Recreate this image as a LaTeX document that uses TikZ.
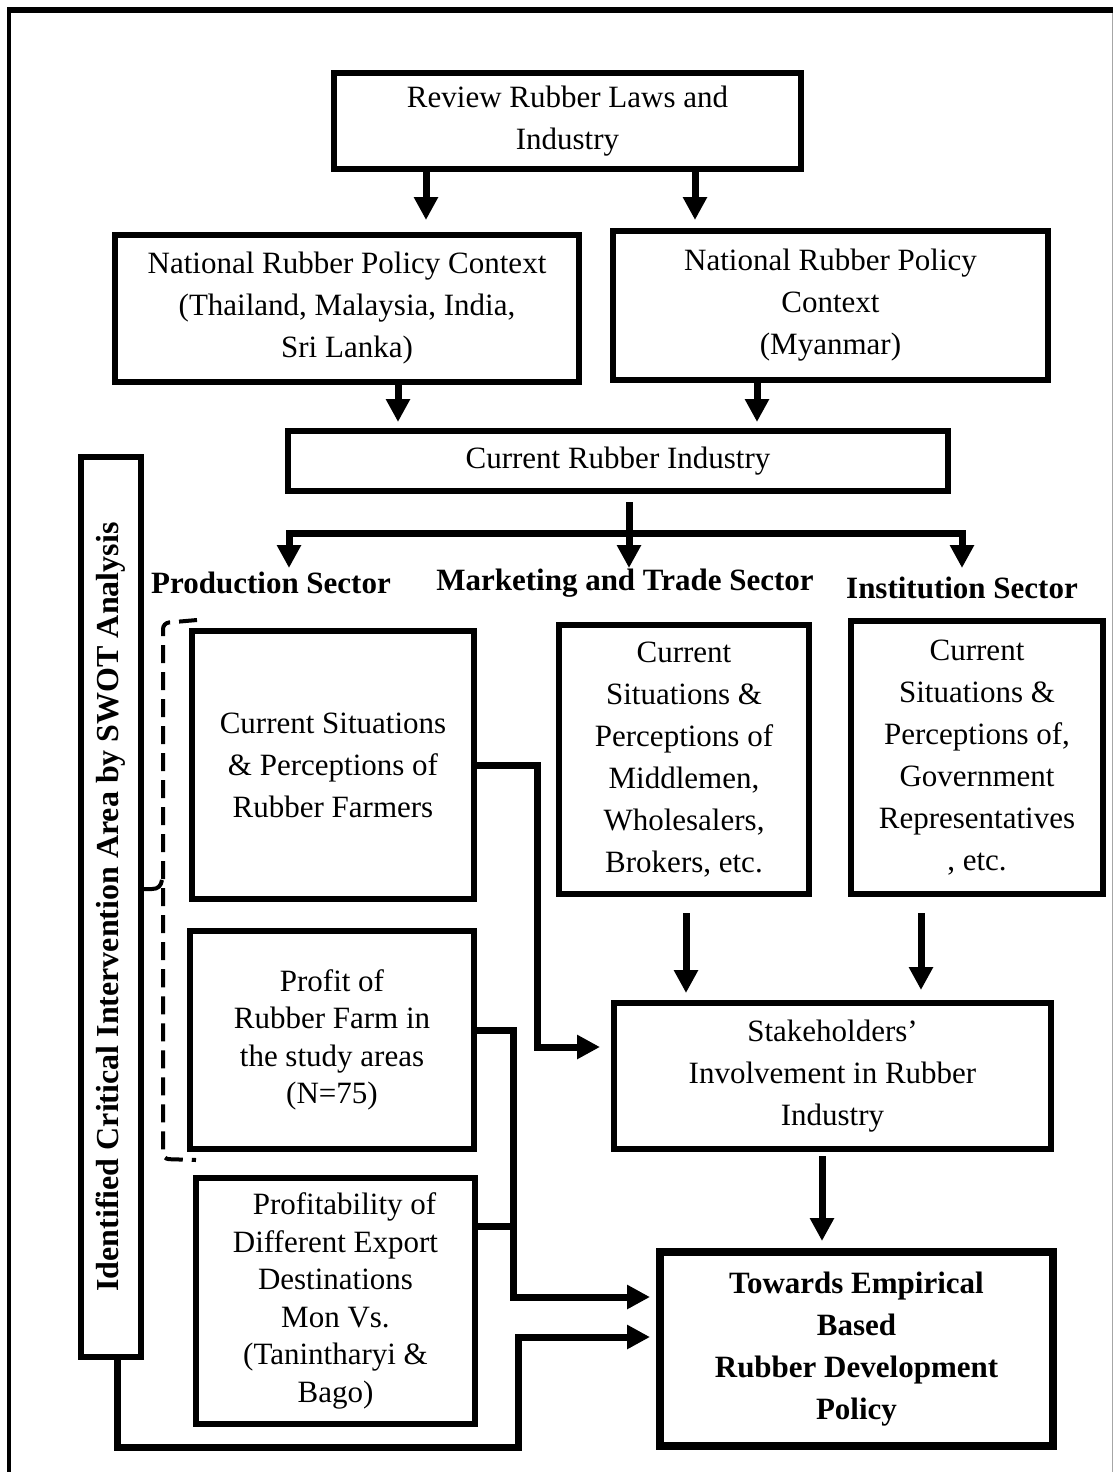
\documentclass[tikz,border=0pt]{standalone}
\usepackage{fontspec}
\setmainfont{Liberation Serif}
\usetikzlibrary{arrows.meta}

\tikzset{
  box/.style={draw, line width=6pt, inner sep=0pt, align=center,
    font=\fontsize{31}{42}\selectfont},
  tightbox/.style={box, font=\fontsize{31}{37.5}\selectfont},
  sector/.style={inner sep=0pt, font=\fontsize{31}{38}\selectfont\bfseries},
  conn/.style={line width=7pt},
  arr/.style={conn, -{Triangle[width=23pt,length=23pt]}},
  dashbrace/.style={line width=4pt, dash pattern=on 18pt off 9pt},
}

\begin{document}
\begin{tikzpicture}[x=1pt,y=-1pt]
\useasboundingbox (0,0) rectangle (1114,1472);

% outer frame
\draw[line width=6pt] (7,10) -- (1113,10);
\draw[line width=4pt] (9,8) -- (9,1472);
\draw[line width=1.5pt, black!35] (1112.5,13) -- (1112.5,1472);

% boxes
\node[box, minimum width=467pt, minimum height=96pt] (review) at (567.5,121)
  {Review Rubber Laws and\\Industry};
\node[box, minimum width=464pt, minimum height=147pt] (thai) at (347,308.5)
  {National Rubber Policy Context\\(Thailand, Malaysia, India,\\Sri Lanka)};
\node[box, minimum width=435pt, minimum height=149pt] (myan) at (830.5,305.5)
  {National Rubber Policy\\Context\\(Myanmar)};
\node[box, minimum width=660pt, minimum height=60pt] (current) at (618,461)
  {Current Rubber Industry};

\node[sector] (prodlab) at (271,583) {Production Sector};
\node[sector] (mktlab) at (625,583) {Marketing and Trade Sector};
\node[sector] (instlab) at (962,588) {Institution Sector};

\node[box, minimum width=282pt, minimum height=268pt] (farm) at (333,765)
  {Current Situations\\\& Perceptions of\\Rubber Farmers};
\node[box, minimum width=250pt, minimum height=269pt] (market) at (684,759.5)
  {Current\\Situations \&\\Perceptions of\\Middlemen,\\Wholesalers,\\Brokers, etc.};
\node[box, minimum width=252pt, minimum height=273pt] (inst) at (977,757.5)
  {Current\\Situations \&\\Perceptions of,\\Government\\Representatives\\, etc.};
\node[tightbox, minimum width=284pt, minimum height=218pt] (profit) at (332,1040)
  {Profit of\\Rubber Farm in\\the study areas\\(N=75)};
\node[tightbox, minimum width=279pt, minimum height=246pt] (profy) at (335.5,1301)
  {\hspace*{18pt}Profitability of\\Different Export\\Destinations\\Mon Vs.\\(Tanintharyi \&\\Bago)};
\node[box, minimum width=437pt, minimum height=146pt] (stake) at (832.5,1076)
  {Stakeholders’\\Involvement in Rubber\\Industry};
\node[box, line width=8pt, minimum width=393pt, minimum height=194pt,
      font=\fontsize{31}{42}\selectfont\bfseries] (towards) at (856.5,1349)
  {Towards Empirical\\Based\\Rubber Development\\Policy};

% vertical side box
\node[box, rotate=90, minimum width=900pt, minimum height=60pt,
      font=\fontsize{32}{38}\selectfont\bfseries] (swot) at (111,907)
  {Identified Critical Intervention Area by SWOT Analysis};

% helper coordinates for connector routes
\coordinate (ax1) at (426,0);
\coordinate (ax2) at (695,0);
\coordinate (bx1) at (398,0);
\coordinate (bx2) at (757,0);
\coordinate (hub) at (629,533);
\coordinate (pl) at (289,568);
\coordinate (pm) at (629,568);
\coordinate (pr) at (962,568);
\coordinate (mx) at (686,0);
\coordinate (ix) at (921,0);
\coordinate (sx0) at (822,0);
\coordinate (fx) at (537,0);
\coordinate (yS) at (0,1047);
\coordinate (px) at (513,0);
\coordinate (qx) at (518,0);
\coordinate (sx) at (117,0);
\coordinate (y1) at (0,1030);
\coordinate (y2) at (0,1297);
\coordinate (y3) at (0,1226);
\coordinate (y4) at (0,1337);
\coordinate (yb) at (0,1447);
\coordinate (yc) at (0,889);

% top flow
\draw[arr, shorten >=12pt] (review.south -| ax1) -- (thai.north -| ax1);
\draw[arr, shorten >=8pt] (review.south -| ax2) -- (myan.north -| ax2);
\draw[arr, shorten >=6pt] (thai.south -| bx1) -- (current.north -| bx1);
\draw[arr, shorten >=6pt] (myan.south -| bx2) -- (current.north -| bx2);

% split into the three sectors
\draw[arr, shorten <=8pt] (current.south -| hub) -- (pm);
\draw[arr] (hub) -| (pl);
\draw[arr] (hub) -| (pr);

% into the stakeholders box
\draw[arr, shorten <=16pt, shorten >=7pt] (market.south -| mx) -- (stake.north -| mx);
\draw[arr, shorten <=16pt, shorten >=10pt] (inst.south -| ix) -- (stake.north -| ix);
\draw[arr, shorten >=11pt] (farm.east) -| (fx |- yS) -- (stake.west |- yS);

% into the policy box
\draw[arr, shorten <=4pt, shorten >=7pt] (stake.south -| sx0) -- (towards.north -| sx0);
\draw[arr, shorten >=6pt] (profit.east |- y1) -- (px |- y1) -- (px |- y2) -- (towards.west |- y2);
\draw[conn] (profy.east |- y3) -- (px |- y3);
\draw[arr, shorten >=6pt] (swot.west -| sx) -- (sx |- yb) -- (qx |- yb) -- (qx |- y4) -- (towards.west |- y4);

% dashed brace grouping the production-sector boxes
\draw[dashbrace, rounded corners=6pt] (197,620) -- (163,623) -- (163,1159) -- (196,1160);
\draw[line width=4pt] (swot.south |- yc) -- (152,889) .. controls (158,889) and (161,886) .. (162,880);

\end{tikzpicture}
\end{document}
